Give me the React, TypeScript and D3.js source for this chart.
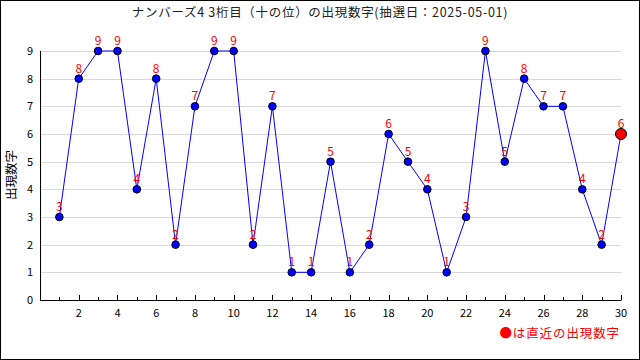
import React from "react";
import * as d3 from "d3";

const title = "ナンバーズ4 3桁目（十の位）の出現数字(抽選日：2025-05-01)";
const yAxisTitle = "出現数字";
const legendText = "●は直近の出現数字";
const draws = d3.range(1, 31);
const values = [3, 8, 9, 9, 4, 8, 2, 7, 9, 9, 2, 7, 1, 1, 5, 1, 2, 6, 5, 4, 1, 3, 9, 5, 8, 7, 7, 4, 2, 6];
const yTicks = [0, 1, 2, 3, 4, 5, 6, 7, 8, 9];
const xMajor = [2, 4, 6, 8, 10, 12, 14, 16, 18, 20, 22, 24, 26, 28, 30];

const W = 640, H = 360;
const left = 40, right = 621, top = 51, bottom = 300;
const font = "'Noto Sans CJK JP', 'DejaVu Sans', sans-serif";

export default function App() {
  const x = d3.scaleLinear().domain([0, 30]).range([left, right]);
  const y = d3.scaleLinear().domain([0, 9]).range([bottom, top]);
  const line = d3.line<number>().x((_, i) => x(draws[i])).y((d) => y(d));
  const last = values.length - 1;
  return (
    <svg width={W} height={H} style={{ position: "absolute", left: 0, top: 0, background: "#fff" }}>
      <rect x={0.5} y={0.5} width={W - 1} height={H - 1} fill="#fff" stroke="#000" />
      <text x={320} y={17} textAnchor="middle" fontSize={12.5} letterSpacing={0.7} fontFamily={font} fill="#222">{title}</text>
      {yTicks.filter((t) => t > 0).map((t) => (
        <line key={t} x1={left} x2={right} y1={Math.round(y(t)) + 0.5} y2={Math.round(y(t)) + 0.5} stroke="#d8d8d8" />
      ))}
      {yTicks.map((t) => (
        <text key={t} x={33} y={y(t) + 4} textAnchor="end" fontSize={11} fontFamily={font} fill="#000">{t}</text>
      ))}
      <line x1={left + 0.5} x2={left + 0.5} y1={top} y2={bottom + 0.5} stroke="#000" />
      <line x1={left} x2={right + 0.5} y1={bottom + 0.5} y2={bottom + 0.5} stroke="#000" />
      {draws.map((d) => {
        const major = d % 2 === 0;
        const xx = Math.round(x(d)) + 0.5;
        return <line key={d} x1={xx} x2={xx} y1={bottom} y2={bottom - (major ? 5 : 3)} stroke="#000" />;
      })}
      {xMajor.map((d) => (
        <text key={d} x={x(d)} y={317} textAnchor="middle" fontSize={11} fontFamily={font} fill="#000">{d}</text>
      ))}
      <text transform={`translate(16,175) rotate(-90)`} textAnchor="middle" fontSize={12.5} fontFamily={font} fill="#000">{yAxisTitle}</text>
      <path d={line(values) ?? ""} fill="none" stroke="#0000ff" strokeWidth={1} />
      {values.map((v, i) => (
        <circle key={i} cx={x(draws[i])} cy={y(v)} r={i === last ? 5.5 : 3.8}
          fill={i === last ? "#ff0000" : "#0000ff"} stroke="#000" strokeWidth={1} />
      ))}
      {values.map((v, i) => (
        <text key={i} x={x(draws[i])} y={y(v) - 6} textAnchor="middle" fontSize={12} fontFamily={font} fill="#ff0000">{v}</text>
      ))}
      <text x={620} y={338} textAnchor="end" fontSize={12.5} letterSpacing={0.9} fontFamily={font} fill="#ff0000">{legendText}</text>
    </svg>
  );
}
